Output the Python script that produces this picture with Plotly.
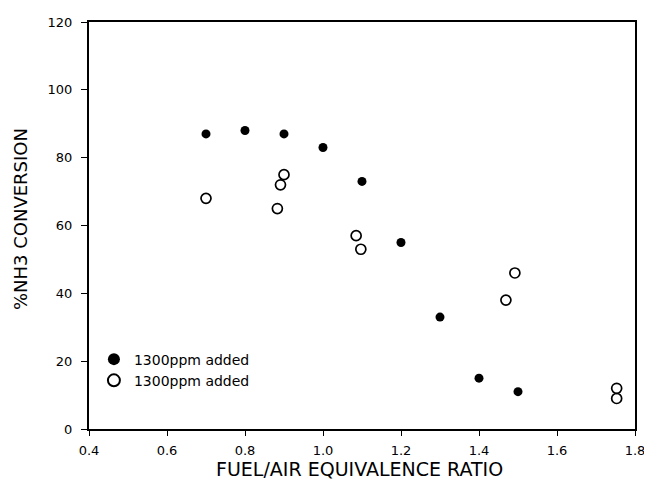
import plotly.graph_objects as go

# Filled circles series
filled_x = [0.70, 0.80, 0.90, 1.00, 1.10, 1.20, 1.30, 1.40, 1.50]
filled_y = [87, 88, 87, 83, 73, 55, 33, 15, 11]

# Open circles series
open_x = [0.70, 0.883, 0.891, 0.90, 1.085, 1.097, 1.469, 1.492, 1.753, 1.753]
open_y = [68, 65, 72, 75, 57, 53, 38, 46, 12, 9]

legend_names = ["1300ppm added", "1300ppm added"]

x_ticks = [0.4, 0.6, 0.8, 1.0, 1.2, 1.4, 1.6, 1.8]
x_ticktext = ["0.4", "0.6", "0.8", "1.0", "1.2", "1.4", "1.6", "1.8"]
y_ticks = [0, 20, 40, 60, 80, 100, 120]

x_title = "FUEL/AIR EQUIVALENCE RATIO"
y_title = "%NH3 CONVERSION"

FONT = "DejaVu Sans"

fig = go.Figure()
fig.add_trace(go.Scatter(
    x=filled_x, y=filled_y, mode="markers", name=legend_names[0],
    marker=dict(symbol="circle", size=9, color="black", line=dict(width=0)),
))
fig.add_trace(go.Scatter(
    x=open_x, y=open_y, mode="markers", name=legend_names[1],
    marker=dict(symbol="circle-open", size=10, color="black", line=dict(width=1.7, color="black")),
))

# the page body has an 8px default margin, so the figure is 8px smaller
fig.update_layout(
    width=644, height=476,
    margin=dict(l=81, r=13, t=7, b=55),
    paper_bgcolor="white", plot_bgcolor="white",
    font=dict(family=FONT, color="black", size=13),
    showlegend=True,
    legend=dict(
        x=0.009, y=0.21, xanchor="left", yanchor="top",
        bgcolor="rgba(0,0,0,0)", borderwidth=0,
        font=dict(family=FONT, size=14, color="black"),
        tracegroupgap=0, itemsizing="constant",
    ),
    xaxis=dict(
        range=[0.4, 1.8], tickvals=x_ticks, ticktext=x_ticktext,
        showgrid=False, zeroline=False,
        showline=True, linecolor="black", linewidth=2, mirror=True,
        ticks="outside", ticklen=5, tickwidth=1, tickcolor="black",
        tickfont=dict(family=FONT, size=13), ticklabelstandoff=3,
        ticklabeloverflow="allow",
    ),
    yaxis=dict(
        range=[0, 120], tickvals=y_ticks,
        showgrid=False, zeroline=False,
        showline=True, linecolor="black", linewidth=2, mirror=True,
        ticks="outside", ticklen=6, tickwidth=1, tickcolor="black",
        tickfont=dict(family=FONT, size=13), ticklabelstandoff=6,
    ),
    yaxis2=dict(
        range=[0, 120], tickvals=y_ticks, overlaying="y", side="right",
        showgrid=False, zeroline=False, showline=False,
        ticks="inside", ticklen=4, tickwidth=1, tickcolor="black",
        showticklabels=False,
    ),
    annotations=[
        dict(
            text=x_title, xref="paper", yref="paper", x=0.495, y=-0.099,
            xanchor="center", yanchor="middle", showarrow=False,
            font=dict(family=FONT, size=19, color="black"),
        ),
        dict(
            text=y_title, xref="paper", yref="paper", x=-0.1255, y=0.517,
            xanchor="center", yanchor="middle", showarrow=False, textangle=-90,
            font=dict(family=FONT, size=18, color="black"),
        ),
    ],
)

fig.write_html("out.html")
